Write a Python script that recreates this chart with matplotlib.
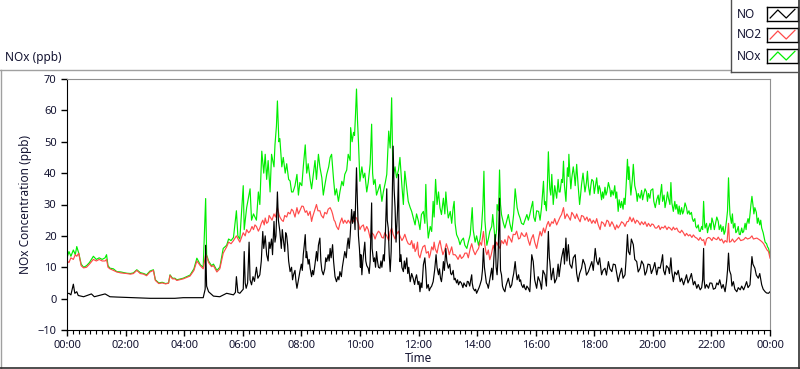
import matplotlib.pyplot as plt
import numpy as np
from matplotlib.lines import Line2D

plt.rcParams['font.family'] = ['Noto Sans', 'DejaVu Sans']

# (minutes after midnight, ppb)
nox_pts = [(0, 13.0), (4, 15.0), (8, 13.5), (13, 15.5), (17, 14.0), (20, 16.6), (24, 14.5), (29, 11.0), (34, 10.0), (40, 10.5),
           (46, 11.5), (54, 13.5), (60, 12.5), (66, 13.0), (72, 12.5), (78, 13.0), (81, 14.0), (84, 10.5), (88, 9.7), (95, 9.5),
           (102, 8.6), (110, 8.5), (122, 8.1), (130, 8.0), (136, 8.2), (143, 9.2), (150, 8.3), (157, 8.0), (163, 7.6), (170, 8.8),
           (177, 9.2), (181, 6.0), (188, 5.0), (195, 5.2), (202, 4.8), (208, 5.0), (211, 7.6), (216, 6.5), (221, 6.5), (225, 6.0),
           (238, 6.5), (252, 7.5), (260, 9.5), (266, 12.9), (273, 10.8), (279, 10.0), (284, 31.9), (286, 14.0), (290, 12.0), (296, 10.5),
           (300, 11.0), (307, 9.0), (313, 10.0), (320, 16.0), (327, 17.0), (331, 19.0), (336, 18.5), (341, 19.5), (347, 28.0), (350, 20.0),
           (354, 19.0), (361, 36.0), (363, 22.0), (368, 29.0), (375, 35.0), (378, 25.0), (382, 27.0), (388, 25.0), (392, 34.0), (395, 30.0),
           (399, 47.0), (403, 40.0), (406, 46.0), (409, 38.0), (412, 44.0), (416, 34.0), (419, 46.0), (424, 42.0), (426, 49.0), (429, 55.0),
           (431, 63.0), (434, 50.0), (436, 51.0), (440, 42.0), (443, 45.0), (447, 40.0), (450, 43.0), (454, 38.0), (457, 37.5), (460, 34.0),
           (463, 34.0), (467, 36.0), (471, 39.6), (474, 33.0), (477, 37.0), (481, 36.0), (484, 42.0), (488, 49.0), (491, 40.0), (494, 43.0),
           (498, 38.0), (501, 35.0), (505, 40.0), (508, 44.0), (511, 38.0), (515, 46.0), (518, 42.0), (522, 38.5), (525, 33.0), (528, 36.0),
           (532, 39.6), (536, 42.0), (539, 45.0), (542, 46.0), (546, 38.0), (549, 33.0), (552, 35.0), (556, 31.0), (559, 34.0), (563, 37.4),
           (566, 36.0), (569, 39.6), (573, 41.0), (576, 46.0), (580, 44.0), (581, 54.5), (584, 50.0), (587, 53.0), (589, 52.0), (591, 58.8),
           (593, 66.8), (595, 57.0), (597, 50.0), (600, 37.4), (604, 42.0), (607, 38.5), (610, 40.0), (614, 34.0), (617, 37.0), (621, 43.0),
           (624, 55.6), (626, 40.0), (628, 36.4), (631, 38.0), (634, 33.0), (638, 35.0), (641, 36.4), (645, 31.0), (648, 34.0), (652, 37.0),
           (655, 39.6), (659, 53.4), (662, 48.0), (665, 64.0), (667, 45.0), (669, 39.6), (672, 42.0), (675, 38.5), (679, 41.0), (682, 45.0),
           (686, 36.0), (689, 30.0), (692, 40.6), (696, 35.0), (699, 31.0), (703, 29.0), (706, 27.8), (709, 26.0), (713, 23.5), (716, 27.0),
           (720, 24.6), (723, 22.0), (726, 26.8), (730, 27.8), (733, 24.0), (735, 36.4), (737, 26.0), (740, 19.3), (744, 23.0), (747, 21.4),
           (750, 31.0), (752, 26.0), (755, 38.0), (758, 30.0), (761, 34.0), (764, 29.0), (767, 26.8), (771, 32.0), (774, 27.0), (776, 34.0),
           (778, 30.0), (781, 25.7), (785, 27.8), (788, 24.0), (791, 29.0), (793, 31.0), (795, 24.0), (798, 20.4), (802, 19.0), (805, 17.2),
           (808, 18.5), (812, 19.3), (815, 17.0), (819, 16.0), (822, 18.0), (826, 20.4), (830, 29.0), (832, 22.0), (836, 18.0), (839, 20.0),
           (843, 17.0), (846, 19.0), (849, 22.5), (852, 30.0), (854, 40.6), (856, 25.0), (860, 17.0), (863, 19.0), (866, 21.4), (870, 23.0),
           (872, 26.8), (875, 22.0), (877, 18.0), (880, 22.0), (881, 30.0), (884, 28.0), (886, 41.0), (888, 30.0), (890, 26.8), (894, 24.0),
           (897, 22.5), (901, 25.0), (904, 26.8), (907, 24.0), (911, 21.4), (915, 27.0), (918, 35.0), (922, 29.0), (925, 27.0), (928, 25.7),
           (931, 24.0), (935, 23.6), (938, 25.0), (942, 26.8), (945, 25.0), (948, 26.8), (951, 29.0), (954, 31.0), (956, 26.0), (959, 24.6),
           (962, 28.0), (966, 27.8), (969, 25.0), (972, 29.0), (974, 33.0), (976, 37.4), (978, 30.0), (979, 31.0), (982, 28.0), (984, 36.0),
           (986, 46.8), (988, 38.0), (989, 35.0), (991, 33.0), (993, 39.6), (995, 33.0), (996, 30.0), (999, 36.0), (1003, 32.0), (1006, 38.0),
           (1008, 34.0), (1010, 34.0), (1013, 38.0), (1015, 37.0), (1017, 43.8), (1019, 36.0), (1022, 31.0), (1025, 41.7), (1027, 39.0), (1028, 46.0),
           (1030, 40.0), (1032, 35.0), (1034, 38.5), (1037, 42.0), (1039, 39.6), (1041, 36.0), (1044, 42.8), (1047, 36.0), (1050, 30.0), (1052, 33.0),
           (1054, 36.4), (1057, 40.0), (1059, 37.0), (1061, 34.0), (1064, 37.0), (1066, 40.6), (1068, 36.0), (1071, 33.0), (1073, 36.0), (1075, 38.0),
           (1078, 37.4), (1080, 33.5), (1082, 35.5), (1085, 38.5), (1088, 33.5), (1090, 36.0), (1092, 35.0), (1095, 31.5), (1097, 34.0), (1099, 32.0),
           (1102, 35.5), (1104, 33.0), (1106, 34.0), (1109, 37.0), (1112, 35.0), (1114, 32.5), (1116, 34.5), (1119, 33.0), (1122, 36.0), (1124, 32.0),
           (1126, 34.0), (1129, 27.8), (1131, 31.5), (1134, 29.0), (1136, 31.0), (1139, 28.5), (1141, 32.0), (1143, 30.0), (1145, 35.0), (1148, 44.4),
           (1150, 38.0), (1151, 42.0), (1153, 37.4), (1155, 33.0), (1158, 38.0), (1160, 42.8), (1163, 36.0), (1166, 34.0), (1168, 31.0), (1170, 33.5),
           (1174, 32.0), (1177, 34.5), (1179, 31.5), (1181, 33.0), (1184, 35.0), (1187, 34.0), (1189, 31.0), (1191, 33.5), (1194, 32.0), (1196, 34.5),
           (1200, 35.0), (1202, 31.0), (1205, 29.0), (1208, 31.5), (1211, 33.0), (1213, 30.0), (1216, 34.0), (1218, 36.4), (1220, 31.0), (1223, 33.0),
           (1225, 29.0), (1228, 31.5), (1230, 34.0), (1232, 32.0), (1235, 30.0), (1237, 37.0), (1239, 30.5), (1242, 27.8), (1245, 31.0), (1247, 28.5),
           (1249, 30.0), (1252, 27.0), (1254, 29.5), (1256, 26.8), (1259, 29.0), (1261, 27.0), (1263, 27.8), (1266, 30.5), (1269, 29.0), (1271, 27.0),
           (1274, 28.0), (1276, 26.8), (1279, 27.5), (1281, 25.5), (1283, 24.6), (1286, 25.5), (1288, 23.0), (1290, 22.5), (1293, 23.5), (1295, 21.5),
           (1297, 21.4), (1300, 23.0), (1302, 22.0), (1304, 31.0), (1306, 24.0), (1307, 22.5), (1310, 24.0), (1312, 21.0), (1314, 22.5), (1317, 24.0),
           (1319, 22.0), (1321, 25.7), (1324, 24.0), (1326, 22.0), (1328, 23.6), (1331, 26.0), (1334, 24.6), (1336, 22.0), (1339, 23.5), (1341, 21.4),
           (1344, 23.0), (1346, 20.5), (1348, 21.4), (1351, 25.0), (1353, 28.0), (1355, 38.5), (1357, 30.0), (1358, 26.8), (1361, 24.0), (1363, 27.0),
           (1365, 22.5), (1368, 24.0), (1370, 21.0), (1372, 21.4), (1375, 23.0), (1377, 20.5), (1379, 20.4), (1382, 22.5), (1384, 21.0), (1386, 21.4),
           (1389, 24.0), (1391, 22.0), (1392, 23.6), (1395, 25.5), (1397, 24.0), (1399, 26.8), (1401, 30.0), (1403, 32.6), (1405, 30.0), (1407, 27.0),
           (1409, 29.0), (1412, 27.5), (1414, 24.0), (1416, 25.7), (1419, 23.5), (1421, 25.0), (1423, 22.5), (1426, 21.0), (1428, 19.5), (1430, 18.0),
           (1433, 17.5), (1435, 16.5), (1437, 16.0), (1440, 14.0)]

no2_pts = [(0, 12.0), (4, 11.5), (8, 13.0), (13, 12.5), (17, 14.0), (20, 13.5), (24, 14.5), (29, 10.5), (34, 9.8), (40, 10.0),
           (46, 11.0), (54, 12.5), (60, 12.0), (66, 12.5), (72, 12.0), (78, 12.0), (81, 12.5), (84, 10.0), (88, 9.5), (95, 9.0),
           (102, 8.5), (110, 8.2), (122, 8.0), (130, 7.8), (136, 8.0), (143, 9.0), (150, 8.0), (157, 7.8), (163, 7.3), (170, 8.5),
           (177, 9.0), (181, 5.8), (188, 4.8), (195, 5.0), (202, 4.7), (208, 4.9), (211, 7.4), (216, 6.3), (221, 6.3), (225, 5.8),
           (238, 6.3), (252, 7.2), (260, 9.0), (266, 12.0), (273, 10.5), (279, 9.5), (284, 14.0), (286, 13.5), (290, 11.5), (296, 10.2),
           (300, 10.5), (307, 8.5), (313, 9.5), (320, 14.5), (327, 16.5), (331, 18.0), (336, 17.5), (341, 18.5), (347, 20.0), (354, 18.0),
           (361, 21.0), (365, 20.0), (368, 22.0), (372, 21.0), (375, 21.5), (379, 23.0), (382, 22.0), (385, 23.5), (388, 23.0), (392, 21.5),
           (395, 22.5), (398, 24.0), (401, 25.0), (404, 23.5), (406, 25.7), (409, 24.0), (412, 24.5), (414, 26.5), (416, 26.0), (420, 25.0),
           (424, 27.0), (427, 26.0), (431, 29.0), (434, 27.0), (436, 26.0), (440, 25.0), (443, 24.6), (446, 26.5), (450, 26.0), (453, 27.5),
           (457, 27.0), (460, 28.5), (463, 28.0), (467, 26.0), (469, 27.5), (471, 29.0), (474, 27.0), (477, 28.0), (481, 29.5), (484, 29.4),
           (488, 27.5), (491, 28.0), (494, 26.5), (498, 27.8), (501, 24.6), (503, 26.0), (505, 27.0), (508, 28.5), (511, 30.0), (514, 28.0),
           (518, 28.0), (521, 26.5), (525, 25.7), (528, 27.5), (532, 27.0), (535, 28.5), (539, 29.0), (542, 28.0), (544, 27.0), (547, 25.0),
           (549, 24.6), (552, 23.0), (556, 22.0), (559, 24.0), (563, 25.7), (566, 24.0), (569, 25.0), (573, 24.0), (576, 25.0), (580, 24.0),
           (583, 25.5), (587, 24.5), (590, 26.0), (593, 25.7), (597, 24.0), (600, 22.0), (603, 23.0), (607, 23.5), (610, 21.5), (614, 23.0),
           (617, 22.0), (621, 19.3), (624, 21.0), (628, 20.4), (631, 19.0), (634, 20.4), (638, 21.5), (641, 21.0), (645, 19.5), (648, 19.3),
           (651, 21.0), (655, 20.0), (659, 18.5), (662, 21.4), (665, 22.5), (668, 20.5), (672, 19.0), (675, 20.4), (679, 21.5), (682, 20.0),
           (686, 18.5), (689, 19.3), (692, 20.5), (696, 18.5), (699, 17.5), (703, 17.2), (706, 18.5), (709, 16.0), (711, 17.5), (713, 15.0),
           (716, 16.0), (718, 18.0), (720, 14.0), (723, 13.0), (726, 15.0), (729, 16.5), (733, 17.0), (736, 14.5), (740, 15.0), (742, 13.0),
           (744, 14.0), (747, 16.5), (750, 15.5), (752, 18.0), (754, 16.0), (758, 14.5), (761, 17.0), (764, 18.5), (767, 16.0), (770, 14.0),
           (774, 15.6), (777, 17.5), (781, 15.5), (783, 14.0), (785, 15.0), (788, 16.5), (791, 14.0), (795, 14.0), (798, 13.4), (801, 12.5),
           (805, 14.0), (808, 12.8), (812, 13.4), (815, 14.5), (819, 14.5), (822, 13.0), (826, 16.0), (829, 17.5), (832, 15.5), (836, 14.0),
           (839, 15.0), (843, 16.0), (846, 18.0), (849, 17.0), (853, 21.4), (856, 17.0), (858, 15.0), (860, 14.0), (863, 15.5), (866, 12.4),
           (869, 14.0), (873, 17.0), (876, 15.5), (880, 18.0), (883, 17.0), (887, 16.0), (890, 18.5), (894, 17.5), (897, 18.8), (901, 17.0),
           (904, 20.0), (907, 19.3), (911, 18.0), (914, 20.5), (918, 20.4), (921, 21.5), (925, 19.0), (928, 19.3), (931, 21.0), (935, 20.0),
           (938, 19.8), (941, 21.0), (945, 18.5), (948, 17.0), (951, 19.0), (955, 20.4), (958, 18.0), (962, 16.0), (965, 18.5), (969, 21.4),
           (972, 20.0), (976, 22.5), (979, 21.0), (983, 23.5), (986, 24.6), (989, 23.0), (993, 24.5), (996, 24.0), (999, 25.5), (1003, 23.5),
           (1006, 24.6), (1010, 26.0), (1013, 26.8), (1017, 29.0), (1020, 25.5), (1024, 27.0), (1027, 26.2), (1031, 25.0), (1034, 27.5), (1037, 26.8),
           (1041, 25.5), (1044, 27.0), (1047, 25.7), (1051, 24.5), (1054, 26.5), (1058, 26.2), (1061, 25.0), (1065, 26.0), (1068, 24.6), (1071, 25.5),
           (1075, 24.0), (1078, 25.0), (1082, 24.0), (1085, 25.5), (1088, 23.6), (1092, 22.0), (1095, 24.5), (1099, 24.0), (1102, 23.0), (1106, 25.0),
           (1109, 24.6), (1112, 23.0), (1116, 24.5), (1119, 23.6), (1123, 22.0), (1126, 23.5), (1129, 22.5), (1133, 23.5), (1136, 24.5), (1140, 24.0),
           (1143, 23.0), (1147, 24.5), (1150, 24.6), (1153, 26.0), (1157, 24.5), (1160, 25.7), (1164, 24.0), (1167, 25.0), (1170, 24.6), (1174, 23.5),
           (1177, 24.5), (1181, 23.6), (1184, 24.5), (1188, 23.0), (1191, 24.0), (1195, 23.0), (1198, 23.8), (1201, 23.6), (1205, 22.5), (1208, 22.5),
           (1212, 23.3), (1215, 22.0), (1218, 22.8), (1222, 22.5), (1225, 23.2), (1229, 22.0), (1232, 22.8), (1235, 22.5), (1239, 21.8), (1242, 22.8),
           (1245, 22.0), (1249, 22.5), (1252, 21.5), (1256, 21.0), (1259, 21.8), (1263, 20.9), (1266, 20.0), (1269, 20.8), (1273, 20.0), (1276, 20.4),
           (1280, 19.5), (1283, 20.3), (1287, 19.5), (1290, 19.3), (1294, 18.6), (1297, 19.5), (1301, 18.5), (1304, 18.8), (1307, 17.0), (1310, 19.0),
           (1314, 19.5), (1317, 19.3), (1321, 18.5), (1324, 19.5), (1328, 19.0), (1331, 18.8), (1334, 19.6), (1338, 18.5), (1341, 19.0), (1345, 17.7),
           (1348, 18.5), (1352, 18.0), (1355, 24.0), (1357, 18.0), (1360, 18.2), (1363, 19.0), (1367, 18.0), (1372, 18.8), (1376, 19.5), (1380, 18.5),
           (1386, 18.8), (1390, 19.5), (1394, 19.0), (1399, 19.3), (1403, 20.0), (1406, 19.0), (1413, 19.3), (1418, 18.8), (1423, 18.2), (1427, 17.5),
           (1430, 16.6), (1434, 15.5), (1437, 15.0), (1440, 12.9)]

no_pts = [(0, 1.5), (4, 1.7), (8, 1.2), (13, 4.6), (16, 1.7), (20, 2.2), (23, 1.0), (34, 0.6), (50, 1.5), (56, 0.6),
          (78, 1.5), (88, 0.6), (102, 0.5), (136, 0.3), (170, 0.1), (221, 0.1), (238, 0.3), (266, 0.3), (279, 0.3), (283, 3.0),
          (284, 17.0), (286, 4.0), (290, 2.2), (300, 0.8), (313, 0.6), (327, 1.7), (341, 1.2), (345, 2.0), (347, 7.0), (350, 2.0),
          (354, 1.7), (361, 3.0), (363, 15.0), (365, 5.0), (367, 3.3), (370, 5.0), (373, 18.0), (375, 6.0), (378, 4.4), (381, 7.0),
          (384, 5.5), (388, 10.0), (391, 6.5), (395, 7.6), (398, 12.0), (401, 21.4), (403, 16.0), (406, 20.0), (409, 14.0), (412, 12.0),
          (414, 18.0), (416, 16.0), (419, 19.0), (421, 14.0), (424, 24.6), (426, 18.0), (428, 20.0), (431, 34.0), (433, 25.0), (436, 21.4),
          (439, 16.0), (441, 22.0), (443, 19.0), (446, 15.0), (448, 21.0), (450, 20.0), (452, 17.0), (454, 12.0), (457, 8.6), (460, 10.0),
          (462, 6.0), (464, 7.6), (467, 9.0), (469, 5.5), (471, 3.3), (474, 6.0), (477, 8.6), (480, 11.0), (482, 9.0), (484, 14.0),
          (486, 17.0), (488, 20.4), (490, 13.0), (491, 15.0), (494, 11.0), (496, 12.5), (498, 9.7), (501, 7.0), (503, 9.0), (505, 7.6),
          (508, 11.0), (511, 15.0), (513, 12.0), (515, 17.0), (518, 19.3), (520, 12.0), (522, 9.0), (525, 7.6), (528, 9.5), (530, 13.0),
          (532, 11.8), (535, 14.0), (537, 12.0), (539, 16.0), (541, 13.0), (544, 17.2), (546, 12.0), (549, 7.0), (552, 5.4), (555, 7.0),
          (557, 6.0), (559, 8.6), (562, 7.0), (564, 10.0), (566, 12.0), (569, 15.0), (572, 13.0), (574, 17.0), (576, 19.3), (578, 16.0),
          (580, 20.0), (583, 28.4), (585, 24.0), (588, 27.8), (590, 22.0), (591, 30.0), (593, 41.7), (595, 30.0), (597, 20.0), (599, 16.0),
          (601, 10.0), (602, 14.0), (604, 7.6), (606, 12.0), (608, 15.0), (610, 18.0), (612, 12.0), (614, 10.5), (617, 9.7), (619, 8.0),
          (621, 12.0), (624, 30.5), (625, 16.0), (628, 11.8), (630, 13.0), (632, 10.0), (634, 15.0), (636, 12.0), (638, 10.0), (641, 9.7),
          (643, 12.0), (645, 10.0), (648, 14.0), (650, 12.0), (652, 20.0), (655, 35.0), (656, 25.0), (658, 22.5), (660, 14.0), (662, 8.6),
          (664, 15.0), (666, 30.0), (668, 48.6), (670, 35.0), (672, 29.0), (674, 18.0), (675, 21.4), (677, 28.0), (679, 39.6), (680, 25.0),
          (682, 11.8), (684, 14.0), (686, 10.0), (689, 8.6), (691, 12.0), (693, 9.5), (696, 13.0), (698, 8.0), (700, 10.0), (703, 5.4),
          (706, 8.0), (709, 6.5), (712, 4.5), (714, 6.5), (716, 7.6), (719, 4.5), (721, 5.5), (723, 2.2), (725, 5.0), (727, 3.5),
          (730, 10.8), (733, 13.0), (735, 9.0), (737, 3.3), (740, 4.5), (742, 2.5), (744, 3.3), (747, 4.0), (750, 5.4), (753, 9.0),
          (756, 14.0), (758, 10.0), (761, 7.6), (763, 9.5), (765, 6.5), (767, 5.4), (769, 8.0), (771, 11.8), (773, 9.0), (776, 16.0),
          (778, 12.0), (781, 9.7), (784, 11.0), (786, 8.0), (788, 7.6), (791, 9.0), (793, 6.0), (795, 6.5), (798, 5.0), (800, 6.0),
          (802, 4.4), (805, 5.5), (808, 4.9), (811, 3.5), (813, 5.0), (815, 4.4), (818, 3.8), (820, 5.5), (822, 5.4), (825, 4.0),
          (827, 6.0), (829, 7.6), (830, 5.0), (832, 3.3), (835, 2.5), (837, 3.0), (839, 1.7), (842, 2.8), (844, 3.5), (846, 4.4),
          (849, 6.0), (851, 9.0), (853, 16.0), (855, 10.0), (857, 7.6), (859, 5.0), (861, 4.5), (863, 3.3), (866, 6.0), (868, 8.0),
          (870, 9.7), (872, 6.0), (874, 12.0), (877, 20.4), (879, 10.0), (881, 7.6), (883, 13.0), (884, 20.0), (886, 32.0), (887, 18.0),
          (888, 9.0), (890, 7.6), (892, 4.0), (894, 3.0), (897, 2.2), (899, 4.0), (901, 5.0), (904, 6.5), (906, 5.0), (908, 3.5),
          (911, 4.4), (913, 6.5), (915, 8.0), (918, 11.8), (920, 8.5), (922, 6.0), (925, 7.6), (927, 5.5), (929, 6.0), (931, 4.4),
          (934, 3.5), (936, 4.5), (938, 3.3), (940, 2.8), (942, 4.0), (945, 3.3), (948, 2.2), (952, 14.0), (955, 11.8), (958, 6.0),
          (962, 3.3), (965, 7.0), (969, 5.4), (972, 3.0), (975, 9.0), (979, 7.6), (982, 4.0), (984, 12.0), (986, 21.4), (988, 13.0),
          (989, 11.8), (992, 6.0), (996, 9.7), (999, 5.0), (1003, 6.5), (1006, 11.0), (1008, 7.0), (1010, 9.7), (1013, 13.0), (1017, 16.0),
          (1019, 11.0), (1022, 19.3), (1024, 12.0), (1027, 17.2), (1030, 11.0), (1034, 9.7), (1037, 13.0), (1041, 14.0), (1044, 8.0), (1047, 5.4),
          (1050, 8.0), (1054, 9.7), (1057, 12.5), (1061, 10.8), (1064, 7.5), (1068, 8.6), (1071, 10.0), (1075, 11.8), (1078, 9.0), (1082, 16.0),
          (1085, 12.0), (1088, 10.8), (1091, 13.0), (1095, 7.6), (1098, 9.0), (1102, 9.7), (1105, 7.5), (1109, 11.8), (1112, 9.5), (1116, 8.6),
          (1119, 11.0), (1123, 10.8), (1126, 8.0), (1129, 5.4), (1132, 7.5), (1136, 9.7), (1139, 6.5), (1143, 7.6), (1145, 12.0), (1148, 20.4),
          (1150, 15.0), (1153, 14.0), (1156, 19.0), (1160, 17.2), (1163, 12.5), (1167, 11.8), (1170, 8.5), (1174, 9.7), (1177, 12.0), (1181, 10.8),
          (1184, 7.5), (1187, 8.6), (1190, 11.0), (1194, 10.8), (1197, 8.0), (1201, 9.7), (1204, 11.5), (1208, 7.6), (1211, 10.0), (1215, 9.7),
          (1218, 12.0), (1220, 14.0), (1222, 9.0), (1225, 7.6), (1228, 10.5), (1232, 9.7), (1234, 8.0), (1237, 13.0), (1239, 8.5), (1242, 5.4),
          (1245, 8.5), (1249, 7.6), (1252, 9.0), (1256, 5.4), (1259, 6.5), (1263, 4.4), (1266, 6.0), (1269, 7.6), (1272, 5.0), (1276, 6.5),
          (1279, 8.0), (1283, 4.4), (1286, 5.5), (1290, 3.3), (1293, 4.5), (1297, 2.8), (1300, 3.5), (1302, 6.0), (1304, 16.0), (1305, 6.0),
          (1307, 3.3), (1310, 4.5), (1314, 3.3), (1317, 5.0), (1321, 4.9), (1324, 3.0), (1328, 3.3), (1331, 5.0), (1334, 4.4), (1337, 6.0),
          (1341, 3.3), (1344, 4.5), (1348, 2.2), (1351, 5.5), (1353, 9.0), (1355, 14.5), (1357, 9.0), (1360, 7.6), (1362, 4.0), (1365, 5.4),
          (1368, 3.0), (1372, 2.2), (1375, 3.5), (1379, 2.8), (1382, 4.0), (1386, 2.8), (1389, 4.0), (1392, 5.4), (1395, 3.5), (1399, 4.4),
          (1401, 9.0), (1403, 13.4), (1405, 11.0), (1409, 9.7), (1412, 7.5), (1416, 6.5), (1419, 8.0), (1423, 4.4), (1426, 3.0), (1430, 2.2),
          (1433, 1.8), (1437, 1.7), (1440, 2.2)]

series_names = ['NO', 'NO2', 'NOx']
series_colors = ['black', '#ff4a4a', '#00ee00']
series_pts = [no_pts, no2_pts, nox_pts]

hour_labels = ['00:00', '02:00', '04:00', '06:00', '08:00', '10:00', '12:00',
               '14:00', '16:00', '18:00', '20:00', '22:00', '00:00']
txt_col = '#141432'

fig = plt.figure(figsize=(8, 3.69), dpi=100)
ax = fig.add_axes([67 / 800, 1 - 330 / 369, 703 / 800, 251 / 369])

# NOx drawn first, NO ends up on top
for pts, c in reversed(list(zip(series_pts, series_colors))):
    t, v = zip(*pts)
    ax.plot(t, v, color=c, lw=0.85)

ax.set_xlim(0, 1440)
ax.set_ylim(-10, 70)
ax.set_xticks(np.arange(0, 1441, 120))
ax.set_xticklabels(hour_labels)
ax.set_xticks(np.arange(0, 1441, 12), minor=True)
ax.set_yticks(np.arange(-10, 71, 10))
ax.tick_params(axis='both', which='major', labelsize=8, colors='black',
               labelcolor=txt_col, length=4, width=1, direction='out')
ax.tick_params(axis='x', which='minor', length=3, width=0.8)
ax.tick_params(axis='x', pad=3)
for s in ['top', 'right']:
    ax.spines[s].set_color('#909090')
for s in ['left', 'bottom']:
    ax.spines[s].set_color('black')
ax.set_xlabel('Time', fontsize=8.5, color=txt_col, labelpad=1)
ax.set_ylabel('NOx Concentration (ppb)', fontsize=8.5, color=txt_col, labelpad=4)

fig.text(5 / 800, 1 - 58 / 369, 'NOx (ppb)', fontsize=8.5, color=txt_col, va='center')

# panel frame
fig.add_artist(Line2D([0, 730 / 800], [1 - 69.5 / 369] * 2, color='#a0a0a0', lw=1))
fig.add_artist(Line2D([0.5 / 800] * 2, [0, 1 - 69.5 / 369], color='#a0a0a0', lw=1))
fig.add_artist(Line2D([0, 1], [0.8 / 369] * 2, color='#303030', lw=1.2))
fig.add_artist(Line2D([799.4 / 800] * 2, [0, 1], color='#303030', lw=1.2))
# legend panel
fig.add_artist(Line2D([730.5 / 800] * 2, [1 - 72 / 369, 1], color='#505050', lw=1))
fig.add_artist(Line2D([730.5 / 800, 1], [1 - 72 / 369] * 2, color='#505050', lw=1))

zig_x = [0.1, 0.35, 0.62, 0.9]
zig_y = [0.2, 0.8, 0.2, 0.85]
for i, (name, c) in enumerate(zip(series_names, series_colors)):
    yc = 14 + 21 * i
    fig.text(737 / 800, 1 - yc / 369, name, fontsize=8.5, color=txt_col, va='center')
    lax = fig.add_axes([767 / 800, 1 - (yc + 6.7) / 369, 31 / 800, 13.4 / 369])
    lax.plot(zig_x, zig_y, color=c, lw=0.9)
    lax.set_xlim(0, 1)
    lax.set_ylim(0, 1)
    lax.set_xticks([])
    lax.set_yticks([])
    for s in lax.spines.values():
        s.set_color('black')
        s.set_linewidth(1)

fig.savefig('out.png', dpi=100)
